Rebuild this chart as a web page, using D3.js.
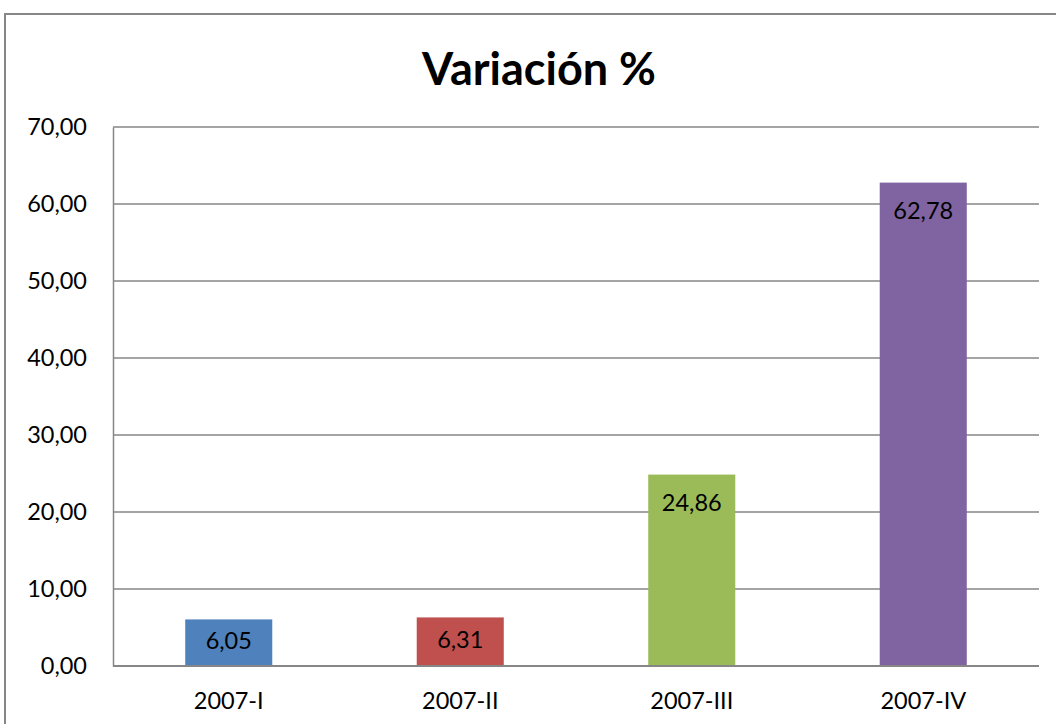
<!DOCTYPE html>
<html><head><meta charset="utf-8">
<script src="https://cdn.jsdelivr.net/npm/d3@7"></script>
<style>body{margin:0;background:#fff}svg{display:block}</style>
</head><body>
<svg id="c" width="1056" height="724"></svg>
<script>
const categories = ["2007-I","2007-II","2007-III","2007-IV"];
const values = [6.05, 6.31, 24.86, 62.78];
const colors = ["#4F81BD","#C0504D","#9BBB59","#8064A2"];
const yTicks = [0,10,20,30,40,50,60,70];
const title = "Variación %";

const svg = d3.select("#c");
const font = "Lato, 'Open Sans', sans-serif";
const fmt = v => d3.format(".2f")(v).replace(".", ",");

svg.append("rect").attr("x",5).attr("y",14).attr("width",1200).attr("height",900)
  .attr("fill","#fff").attr("stroke","#868686").attr("stroke-width",2);

const L=113, R=1039, T=127, B=666;
const x = d3.scaleBand().domain(categories).range([L,R]).paddingInner(0.624).paddingOuter(0.312);
const y = d3.scaleLinear().domain([0,70]).range([B,T]);

svg.append("text").attr("x",539).attr("y",85).attr("text-anchor","middle")
  .attr("font-family",font).attr("font-weight","bold").attr("font-size",45).text(title);

svg.append("g").selectAll("line").data(yTicks).join("line")
  .attr("x1",L).attr("x2",R).attr("y1",d=>y(d)).attr("y2",d=>y(d))
  .attr("stroke","#868686").attr("stroke-width",1.5);

const yAxis = svg.append("g").attr("transform",`translate(${L},0)`)
  .call(d3.axisLeft(y).tickValues(yTicks).tickSize(0).tickPadding(26).tickFormat(fmt));
yAxis.select(".domain").attr("stroke","#868686").attr("stroke-width",1.5);
yAxis.selectAll("text").attr("font-family",font).attr("font-size",23.5).attr("fill","#000");

svg.append("g").selectAll("rect").data(values).join("rect")
  .attr("x",(d,i)=>x(categories[i])).attr("width",x.bandwidth())
  .attr("y",d=>y(d)).attr("height",d=>B-y(d)).attr("fill",(d,i)=>colors[i]);

svg.append("line").attr("x1",L).attr("x2",R).attr("y1",B).attr("y2",B)
  .attr("stroke","#868686").attr("stroke-width",2);

const xAxis = svg.append("g").attr("transform",`translate(0,${B})`)
  .call(d3.axisBottom(x).tickSize(0).tickPadding(26));
xAxis.select(".domain").remove();
xAxis.selectAll("text").attr("font-family",font).attr("font-size",23.5).attr("fill","#000");

svg.append("g").selectAll("text").data(values).join("text")
  .attr("x",(d,i)=>x(categories[i])+x.bandwidth()/2)
  .attr("y",d=>Math.min(y(d)+28.5, (y(d)+B)/2 - 2))
  .attr("dy","0.35em").attr("text-anchor","middle")
  .attr("font-family",font).attr("font-size",23.5).attr("fill","#000").text(fmt);
</script>
</body></html>
